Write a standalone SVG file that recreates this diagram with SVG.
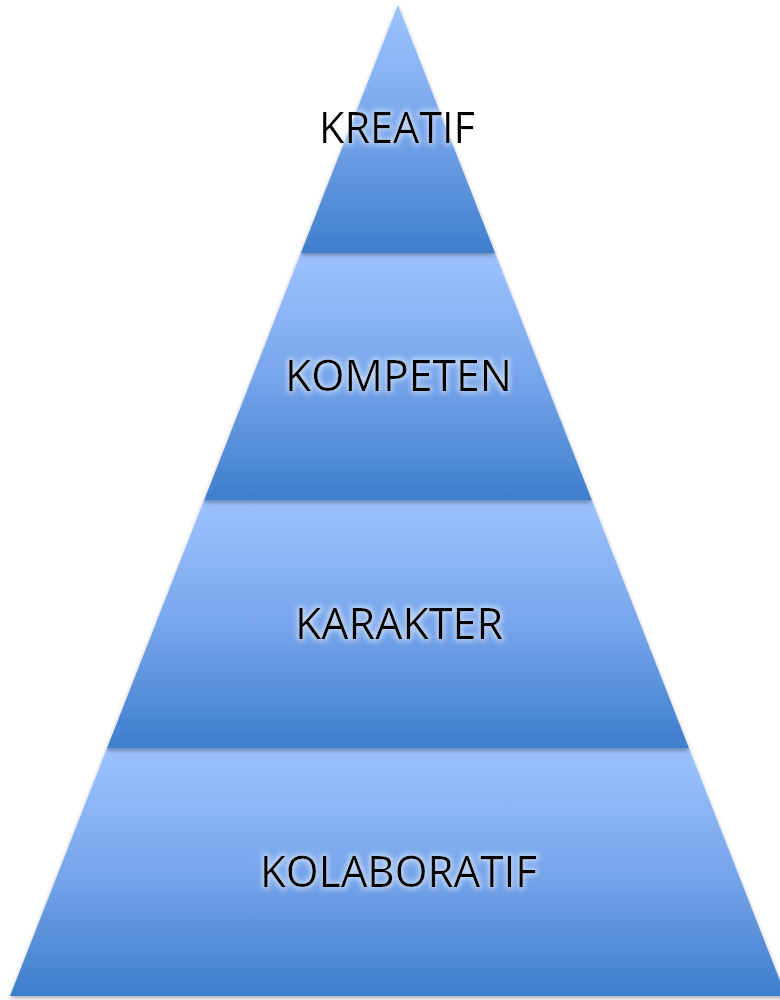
<svg xmlns="http://www.w3.org/2000/svg" width="780" height="1000" viewBox="0 0 780 1000">
  <defs>
    <linearGradient id="bandGrad" x1="0" y1="0" x2="0" y2="1">
      <stop offset="0" stop-color="#9DC3FE"/>
      <stop offset="0.5" stop-color="#77A5EB"/>
      <stop offset="1" stop-color="#3E7ECC"/>
    </linearGradient>
    <filter id="shadow" x="-10%" y="-10%" width="120%" height="120%">
      <feDropShadow dx="0" dy="2" stdDeviation="2" flood-color="#000" flood-opacity="0.35"/>
    </filter>
    <filter id="glow" x="-20%" y="-40%" width="140%" height="180%">
      <feMorphology in="SourceAlpha" operator="dilate" radius="1.5" result="d"/>
      <feGaussianBlur in="d" stdDeviation="2.5" result="b"/>
      <feFlood flood-color="#ffffff" flood-opacity="0.5"/>
      <feComposite in2="b" operator="in" result="g"/>
      <feMerge>
        <feMergeNode in="g"/>
        <feMergeNode in="SourceGraphic"/>
      </feMerge>
    </filter>
  </defs>
  <style>
    .band { fill: url(#bandGrad); filter: url(#shadow); }
    .lbl { font-family: "Open Sans", "Liberation Sans", Arial, sans-serif; font-size: 43px; fill: #000; text-anchor: middle; filter: url(#glow); }
  </style>
  <rect width="780" height="1000" fill="#ffffff"/>
  <g id="level-kolaboratif">
    <polygon class="band" points="106.9,748.5 689.1,748.5 786,996 10,996"/>
    <text class="lbl" x="398.5" y="887" textLength="277" lengthAdjust="spacingAndGlyphs">KOLABORATIF</text>
  </g>
  <g id="level-karakter">
    <polygon class="band" points="204,500.5 592,500.5 689.1,748.5 106.9,748.5"/>
    <text class="lbl" x="399" y="639" textLength="208" lengthAdjust="spacingAndGlyphs">KARAKTER</text>
  </g>
  <g id="level-kompeten">
    <polygon class="band" points="300.9,253 495.1,253 592,500.5 204,500.5"/>
    <text class="lbl" x="398.5" y="391" textLength="227" lengthAdjust="spacingAndGlyphs">KOMPETEN</text>
  </g>
  <g id="level-kreatif">
    <polygon class="band" points="398,5 495.1,253 300.9,253"/>
    <text class="lbl" x="397" y="143" textLength="156" lengthAdjust="spacingAndGlyphs">KREATIF</text>
  </g>
  <g id="connectors"/>
</svg>
